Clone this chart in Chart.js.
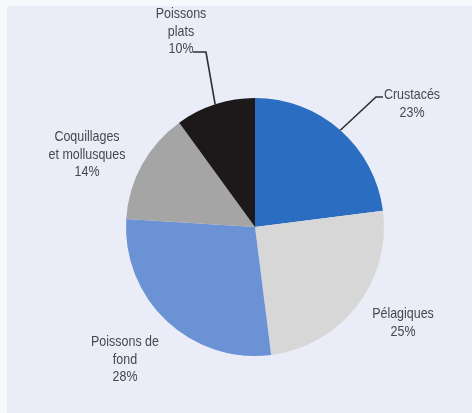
<!DOCTYPE html>
<html>
<head>
<meta charset="utf-8">
<script src="https://cdn.jsdelivr.net/npm/chart.js@4/dist/chart.umd.min.js"></script>
<style>
    html, body { margin: 0; padding: 0; background: #f7f8fc; }
    #cadre {
        position: absolute; left: 7px; top: 6px;
        width: 465px; height: 407px;
        background: #eaedf8;
    }
</style>
</head>
<body>
<div id="cadre"><canvas id="grafico" width="465" height="407"></canvas></div>
<script>
// Répartition des captures par groupe d'espèces (%)
var CATEGORIES = ['Crustacés', 'Pélagiques', 'Poissons de fond', 'Coquillages et mollusques', 'Poissons plats'];
var VALEURS = [23, 25, 28, 14, 10];
var COULEURS = ['#2b6dc1', '#d7d7d8', '#6a92d4', '#a6a5a6', '#1d191a'];

// lignes de texte de chaque étiquette (le pourcentage est ajouté ensuite)
var LIGNES = [['Crustacés'], ['Pélagiques'], ['Poissons de', 'fond'], ['Coquillages', 'et mollusques'], ['Poissons', 'plats']];

// placement des étiquettes par rapport au centre du camembert
var PLACEMENT = [
    {x: 157, y: -132, coude: [121, -130], fin: [128, -130]},
    {x: 148, y: 87},
    {x: -130, y: 115},
    {x: -168, y: -90},
    {x: -74, y: -213, coude: [-49, -175], fin: [-62, -175]}
];

// police étroite : Liberation Sans comprimée horizontalement
var ECHELLE_X = 0.86;

var etiquettes = {
    id: 'etiquettes',
    afterDatasetsDraw: function (chart) {
        var ctx = chart.ctx;
        var meta = chart.getDatasetMeta(0);
        for (var i = 0; i < meta.data.length; i++) {
            var arc = meta.data[i];
            var cx = arc.x, cy = arc.y;
            var p = PLACEMENT[i];
            ctx.save();
            if (p.coude) {
                var mid = (arc.startAngle + arc.endAngle) / 2;
                ctx.beginPath();
                ctx.moveTo(cx + arc.outerRadius * Math.cos(mid), cy + arc.outerRadius * Math.sin(mid));
                ctx.lineTo(cx + p.coude[0], cy + p.coude[1]);
                ctx.lineTo(cx + p.fin[0], cy + p.fin[1]);
                ctx.strokeStyle = '#2e2e30';
                ctx.lineWidth = 1.6;
                ctx.stroke();
            }
            var lignes = LIGNES[i].concat([VALEURS[i] + '%']);
            ctx.translate(cx + p.x, cy + p.y);
            ctx.scale(ECHELLE_X, 1);
            ctx.font = '14.5px "Liberation Sans", Arial, sans-serif';
            ctx.textAlign = 'center';
            ctx.textBaseline = 'middle';
            ctx.fillStyle = '#48484c';
            for (var j = 0; j < lignes.length; j++) {
                ctx.fillText(lignes[j], 0, j * 17.5);
            }
            ctx.restore();
        }
    }
};

var GRAFICO = new Chart(document.getElementById('grafico'), {
    type: 'pie',
    data: {
        labels: CATEGORIES,
        datasets: [{
            data: VALEURS,
            backgroundColor: COULEURS,
            borderWidth: 0
        }]
    },
    options: {
        responsive: false,
        animation: false,
        layout: {
            padding: {left: 119, right: 88, top: 92, bottom: 57}
        },
        plugins: {
            legend: {display: false},
            tooltip: {enabled: false}
        }
    },
    plugins: [etiquettes]
});
</script>
</body>
</html>
